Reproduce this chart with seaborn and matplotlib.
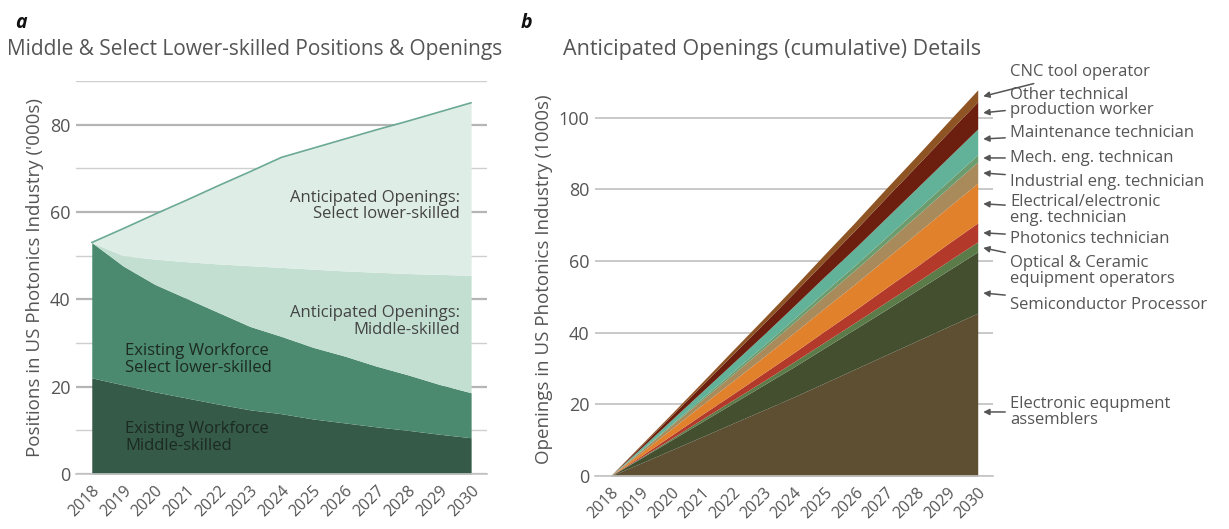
import matplotlib
matplotlib.use("Agg")
import matplotlib.pyplot as plt
import seaborn as sns
import numpy as np
import pandas as pd

years = [str(y) for y in range(2018, 2031)]

# panel a: cumulative tops of each band ('000s)
existing_middle = [22.0, 20.4, 18.8, 17.4, 16.0, 14.7, 13.8, 12.6, 11.7, 10.8, 10.0, 9.1, 8.3]
existing_select_top = [53.0, 47.6, 43.4, 40.2, 37.0, 33.8, 31.5, 29.0, 27.0, 24.7, 22.7, 20.5, 18.6]
openings_middle_top = [53.0, 50.0, 49.2, 48.6, 48.1, 47.7, 47.3, 46.9, 46.5, 46.2, 45.9, 45.7, 45.5]
total_top = [53.0, 56.2, 59.5, 62.7, 66.0, 69.2, 72.5, 74.6, 76.7, 78.8, 80.8, 82.9, 85.0]

# panel b: cumulative openings per occupation (1000s)
electronic_assemblers = [0, 3.6, 7.3, 11.0, 14.7, 18.4, 22.1, 26.0, 29.9, 33.8, 37.7, 41.6, 45.5]
semiconductor = [0, 1.4, 2.8, 4.2, 5.6, 7.0, 8.4, 9.8, 11.2, 12.6, 14.1, 15.6, 17.1]
optical_ceramic = [0, 0.2, 0.4, 0.7, 0.9, 1.1, 1.4, 1.6, 1.8, 2.1, 2.3, 2.6, 2.8]
photonics_tech = [0, 0.4, 0.9, 1.3, 1.7, 2.2, 2.6, 3.1, 3.5, 4.0, 4.4, 4.9, 5.3]
electrical_tech = [0, 0.9, 1.8, 2.7, 3.6, 4.5, 5.5, 6.4, 7.3, 8.2, 9.2, 10.1, 11.1]
industrial_tech = [0, 0.5, 1.0, 1.4, 1.9, 2.4, 2.9, 3.4, 3.9, 4.4, 4.9, 5.4, 5.9]
mech_tech = [0, 0.2, 0.3, 0.5, 0.7, 0.8, 1.0, 1.2, 1.3, 1.5, 1.7, 1.8, 2.0]
maintenance_tech = [0, 0.6, 1.2, 1.8, 2.4, 3.0, 3.6, 4.2, 4.8, 5.4, 6.0, 6.6, 7.2]
other_production = [0, 0.6, 1.2, 1.8, 2.5, 3.1, 3.7, 4.3, 5.0, 5.7, 6.3, 7.0, 7.6]
cnc_operator = [0, 0.3, 0.5, 0.8, 1.1, 1.4, 1.6, 1.9, 2.2, 2.5, 2.7, 3.0, 3.3]

occupations = ["Electronic equpment\nassemblers", "Semiconductor Processor",
               "Optical & Ceramic\nequipment operators", "Photonics technician",
               "Electrical/electronic\neng. technician", "Industrial eng. technician",
               "Mech. eng. technican", "Maintenance technician",
               "Other technical\nproduction worker", "CNC tool operator"]
occ_values = [electronic_assemblers, semiconductor, optical_ceramic, photonics_tech,
              electrical_tech, industrial_tech, mech_tech, maintenance_tech,
              other_production, cnc_operator]
occ_colors = ["#5e4f33", "#444f30", "#5b7b49", "#b3392a", "#e2812b",
              "#a88a5b", "#6c9c6e", "#62b199", "#6c1f0f", "#8e5424"]
# arrow heads / text positions (y in data units)
arrow_y = [17.9, 51.1, 63.7, 67.9, 76.0, 84.6, 88.8, 94.1, 101.4, 106.0]
text_y = [17.9, 47.8, 57.3, 66.2, 74.3, 82.1, 88.8, 95.8, 104.2, 112.8]

sns.set_theme(style="white")
plt.rcParams["font.family"] = ["Open Sans", "DejaVu Sans"]
txt = "#555555"

fig = plt.figure(figsize=(12.29, 5.29), dpi=100)
ax1 = fig.add_axes([0.0618, 0.104, 0.3344, 0.743])
ax2 = fig.add_axes([0.484, 0.100, 0.324, 0.745])

x = np.arange(len(years))

# ---- panel a
zeros = np.zeros(len(years))
ax1.fill_between(x, zeros, existing_middle, color="#355a48", lw=0, zorder=2)
ax1.fill_between(x, existing_middle, existing_select_top, color="#4b8a6e", lw=0, zorder=2)
ax1.fill_between(x, existing_select_top, openings_middle_top, color="#c2dfd2", lw=0, zorder=2)
ax1.fill_between(x, openings_middle_top, total_top, color="#dfede7", lw=0, zorder=2)
line_df = pd.DataFrame({"x": x, "total": total_top})
sns.lineplot(data=line_df, x="x", y="total", ax=ax1, color="#6aa994", lw=1.2, zorder=3)

ax1.set_ylim(0, 90)
ax1.set_ylabel("Positions in US Photonics Industry ('000s)", fontsize=13.5, color=txt, labelpad=4)

ax1.text(11.65, 61.4, "Anticipated Openings:\nSelect lower-skilled", ha="right", va="center",
         fontsize=12, color="#444444", linespacing=1.05, zorder=4)
ax1.text(11.65, 34.9, "Anticipated Openings:\nMiddle-skilled", ha="right", va="center",
         fontsize=12, color="#444444", linespacing=1.05, zorder=4)
ax1.text(1.05, 26.2, "Existing Workforce\nSelect lower-skilled", ha="left", va="center",
         fontsize=12, color="#1c2a21", linespacing=1.05, zorder=4)
ax1.text(1.05, 8.3, "Existing Workforce\nMiddle-skilled", ha="left", va="center",
         fontsize=12, color="#1c2a21", linespacing=1.05, zorder=4)

# ---- panel b
ax2.stackplot(x, *occ_values, colors=occ_colors, lw=0, zorder=2)
ax2.set_ylim(0, 110)
ax2.set_yticks([0, 20, 40, 60, 80, 100])
ax2.set_ylabel("Openings in US Photonics Industry (1000s)", fontsize=13.5, color=txt, labelpad=4)

for name, ay, ty in zip(occupations, arrow_y, text_y):
    ax2.annotate(name, xy=(12.18, ay), xytext=(13.05, ty), textcoords="data",
                 ha="left", va="center", fontsize=12, color=txt, linespacing=0.95,
                 annotation_clip=False,
                 arrowprops=dict(arrowstyle="-|>", color="#555555", lw=1.1,
                                 shrinkA=1, shrinkB=0, mutation_scale=9))

# ---- shared axis styling
for ax in (ax1, ax2):
    ax.set_xlim(-0.5, 12.5)
    ax.set_xticks(x)
    ax.set_xticklabels(years, rotation=45, ha="right", rotation_mode="anchor",
                       fontsize=11.5, color=txt)
    ax.set_xticks(np.arange(-0.5, 13, 1), minor=True)
    ax.tick_params(axis="x", which="major", length=0, pad=6)
    ax.tick_params(axis="x", which="minor", length=5, color="#bbbbbb", width=1)
    ax.tick_params(axis="y", length=0, labelsize=13, labelcolor=txt, pad=4)
    ax.set_xlabel("")
    for s in ("top", "left", "right"):
        ax.spines[s].set_visible(False)
    ax.spines["bottom"].set_color("#c4c4c4")
    ax.spines["bottom"].set_linewidth(1.2)
    ax.set_axisbelow(True)

ax1.set_yticks([0, 20, 40, 60, 80])
ax1.set_yticks([10, 30, 50, 70, 90], minor=True)
ax1.tick_params(axis="y", which="minor", length=0)
ax1.grid(axis="y", which="major", color="#b5b5b5", lw=1.6, zorder=0)
ax1.grid(axis="y", which="minor", color="#cfcfcf", lw=1.0, zorder=0)
ax2.grid(axis="y", which="major", color="#c0c0c0", lw=1.2, zorder=0)

fig.text(0.012, 0.975, "a", fontsize=14, fontweight="bold", style="italic", color="#111111", va="top")
fig.text(0.424, 0.975, "b", fontsize=14, fontweight="bold", style="italic", color="#111111", va="top")
fig.text(0.006, 0.907, "Middle & Select Lower-skilled Positions & Openings", fontsize=15,
         color=txt, va="center")
fig.text(0.458, 0.907, "Anticipated Openings (cumulative) Details", fontsize=15.5,
         color=txt, va="center")

fig.savefig("out.png", dpi=100)
